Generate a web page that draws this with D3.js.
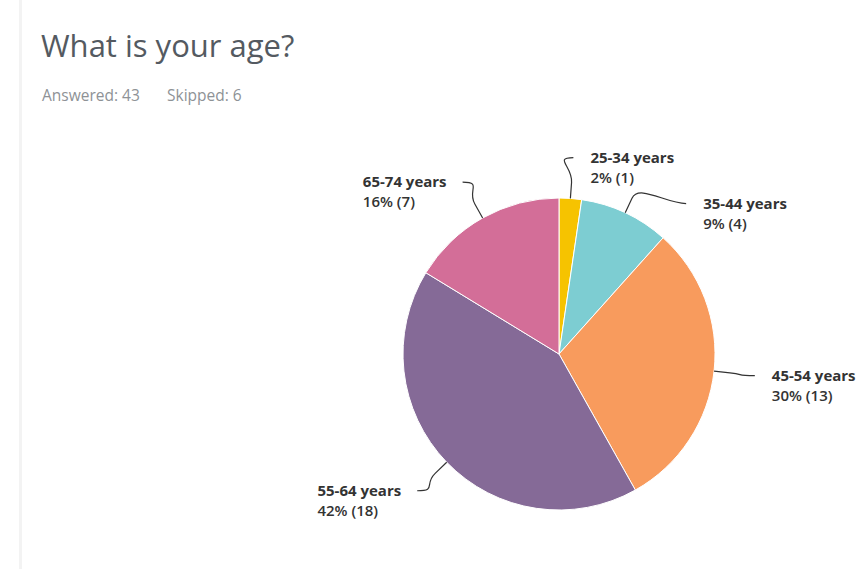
<!DOCTYPE html>
<html>
<head>
<meta charset="utf-8">
<script src="https://cdn.jsdelivr.net/npm/d3@7"></script>
<style>
  body { margin: 0; background: #fff; }
  text { font-family: "Open Sans", sans-serif; }
</style>
</head>
<body>
<div id="chart"></div>
<script>
var categories = ["25-34 years", "35-44 years", "45-54 years", "55-64 years", "65-74 years"];
var counts = [1, 4, 13, 18, 7];
var percents = ["2%", "9%", "30%", "42%", "16%"];
var colors = ["#f6c300", "#7dcdd2", "#f89b5d", "#856a97", "#d36e98"];
var answered = 43, skipped = 6;

var width = 864, height = 569;
var cx = 559, cy = 354, radius = 156;

var svg = d3.select("#chart")
  .append("svg")
    .attr("width", width)
    .attr("height", height);

// page edge on the left
svg.append("rect")
  .attr("x", 19).attr("y", 0)
  .attr("width", 3).attr("height", height)
  .attr("fill", "#f3f3f3");

svg.append("text")
  .attr("x", 41).attr("y", 57)
  .attr("font-size", 31)
  .attr("fill", "#545a61")
  .text("What is your age?");

svg.append("text")
  .attr("x", 42).attr("y", 101)
  .attr("font-size", 15.5)
  .attr("fill", "#8e9296")
  .text("Answered: " + answered);

svg.append("text")
  .attr("x", 167).attr("y", 101)
  .attr("font-size", 15.5)
  .attr("fill", "#8e9296")
  .text("Skipped: " + skipped);

var data = categories.map(function(c, i) {
  return {name: c, value: counts[i], pct: percents[i], color: colors[i]};
});

var pie = d3.pie()
  .sort(null)
  .value(function(d) { return d.value; });

var arcs = pie(data);

var arc = d3.arc().innerRadius(0).outerRadius(radius);

var g = svg.append("g")
  .attr("transform", "translate(" + cx + "," + cy + ")");

g.selectAll("path.slice")
  .data(arcs)
  .enter()
  .append("path")
    .attr("class", "slice")
    .attr("d", arc)
    .attr("fill", function(d) { return d.data.color; })
    .attr("stroke", "#fff")
    .attr("stroke-width", 1);

// label layout: radial point, then push down labels that collide on each side
var labelR = radius + 41, breakR = radius + 16, spacing = 46, gap = 16;

function pt(a, r) { return [r * Math.sin(a), -r * Math.cos(a)]; }

var labels = arcs.map(function(d) {
  var a = (d.startAngle + d.endAngle) / 2;
  var p = pt(a, labelR);
  return {d: d, a: a, right: a < Math.PI, y: p[1]};
});

[true, false].forEach(function(side) {
  var list = labels.filter(function(l) { return l.right === side; })
    .sort(function(a, b) { return a.y - b.y; });
  for (var i = 1; i < list.length; i++) {
    if (list[i].y < list[i - 1].y + spacing) list[i].y = list[i - 1].y + spacing;
  }
});

labels.forEach(function(l) {
  var dir = l.right ? 1 : -1;
  var dy = Math.min(Math.abs(l.y), labelR);
  l.x = dir * Math.sqrt(labelR * labelR - dy * dy);
  l.edge = pt(l.a, radius);
  l.brk = pt(l.a, breakR);
  l.dir = dir;
});

g.selectAll("path.leader")
  .data(labels)
  .enter()
  .append("path")
    .attr("class", "leader")
    .attr("fill", "none")
    .attr("stroke", "#333")
    .attr("stroke-width", 1.2)
    .attr("d", function(l) {
      var c2 = [2 * l.brk[0] - l.edge[0], 2 * l.brk[1] - l.edge[1]];
      return "M" + l.x + "," + l.y +
        "C" + (l.x - l.dir * 20) + "," + l.y + " " + c2[0] + "," + c2[1] + " " + l.brk[0] + "," + l.brk[1] +
        "L" + l.edge[0] + "," + l.edge[1];
    });

var lab = g.selectAll("g.label")
  .data(labels)
  .enter()
  .append("g")
    .attr("class", "label");

lab.append("text")
  .attr("dy", "0.35em")
  .attr("font-size", 15)
  .attr("font-weight", 700)
  .attr("fill", "#333")
  .text(function(l) { return l.d.data.name; });

lab.append("text")
  .attr("y", 20)
  .attr("dy", "0.35em")
  .attr("font-size", 15)
  .attr("font-weight", 600)
  .attr("fill", "#333")
  .text(function(l) { return l.d.data.pct + " (" + l.d.data.value + ")"; });

// left-aligned label blocks; on the left side the block ends at the leader
lab.attr("transform", function(l) {
  var w = this.getBBox().width;
  var x = l.right ? l.x + gap + 1 : l.x - gap - w;
  return "translate(" + x + "," + l.y + ")";
});
</script>
</body>
</html>
